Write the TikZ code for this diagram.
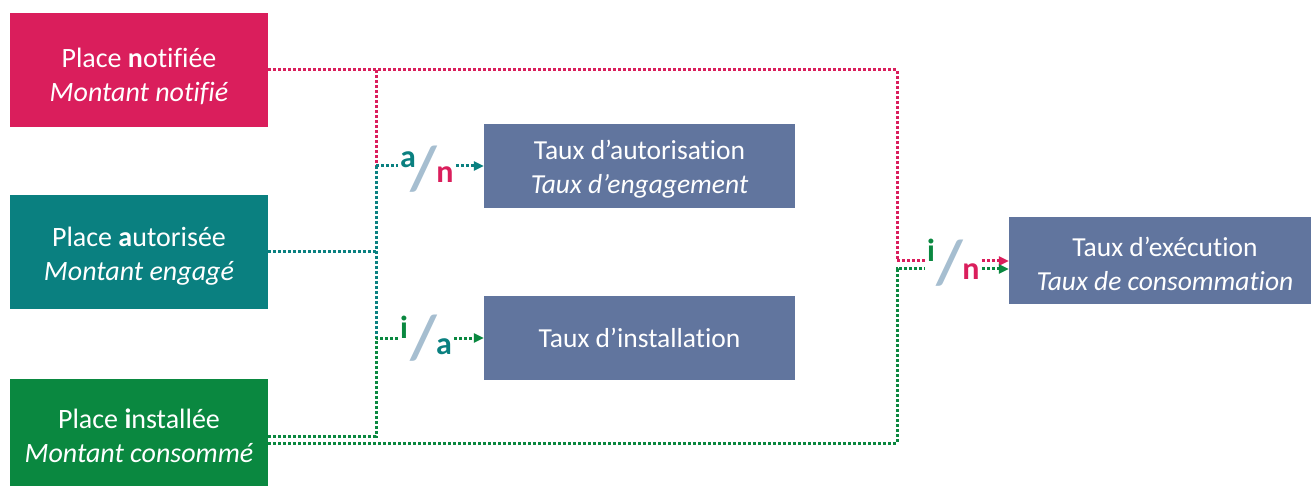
\documentclass[tikz,border=0pt]{standalone}
\usepackage{fontspec}
\setmainfont{Carlito}[Ligatures={NoCommon}]
\usepackage{xcolor}
\usetikzlibrary{arrows.meta, positioning, calc}

\definecolor{rose}{RGB}{218,30,92}
\definecolor{sarcelle}{RGB}{10,128,128}
\definecolor{vert}{RGB}{10,136,64}
\definecolor{ardoise}{RGB}{97,117,158}
\definecolor{barregris}{RGB}{166,190,208}

\newcommand{\hautligne}[1]{\rule{0pt}{#1}}

\tikzset{
  place/.style={minimum width=258pt, minimum height=114pt, inner sep=0pt, text=white, align=center, font=\fontsize{28}{34}\selectfont},
  taux/.style={fill=ardoise, minimum width=311pt, minimum height=84pt, inner sep=0pt, text=white, align=center, font=\fontsize{27.5}{34}\selectfont},
  dots/.style={line width=3pt, dash pattern=on 3pt off 2pt},
  tip/.style={-{Triangle[length=10pt, width=9pt]}},
  lettre/.style={inner sep=0pt, font=\fontsize{32}{32}\selectfont\bfseries},
  barre/.style={inner sep=0pt, text=barregris, font=\fontsize{62}{62}\selectfont\bfseries}
}

\begin{document}
\begin{tikzpicture}[x=1pt, y=-1pt]
      \useasboundingbox (0,0) rectangle (1311,486);
      \clip (0,0) rectangle (1311,486);

      \node[place, fill=rose] (notif) at (139,70) {\hautligne{32pt}Place \textbf{n}otifiée\\\textit{Montant notifié}};
      \node[place, fill=sarcelle] (autor) at (139,252) {\hautligne{28pt}Place \textbf{a}utorisée\\\textit{Montant engagé}};
      \node[place, fill=vert] (instal) at (139,436) {\hautligne{20pt}Place \textbf{i}nstallée\\\textit{Montant consommé}};

      \node[taux] (tautor) at (639.5,166) {\hautligne{26pt}Taux d’autorisation\\\textit{Taux d’engagement}};
      \node[taux] (tinstal) at (639.5,338) {Taux d’installation};
      \node[taux, minimum width=312pt, minimum height=87pt] (texec) at (1165,260.5) {\hautligne{26pt}Taux d’exécution\\\textit{Taux de consommation}};

      \coordinate (jn) at (376,70);
      \coordinate (ja) at (376,166);
      \coordinate (ji) at (376,338);
      \coordinate (hautdroit) at (897,70);
      \coordinate (basdroit) at (897,443);
      \coordinate (je) at (897,261);
      \coordinate (jv) at (897,269);

      \node[lettre, text=sarcelle] (a1) at (408,160) {a};
      \node[barre] (s1) at (424,169) {/};
      \node[lettre, text=rose] (n1) at (445,175) {n};

      \node[lettre, text=vert] (i2) at (404,327) {i};
      \node[barre] (s2) at (424,338) {/};
      \node[lettre, text=sarcelle] (a2) at (444,347) {a};

      \node[lettre, text=vert] (i3) at (931,250) {i};
      \node[barre] (s3) at (950,263) {/};
      \node[lettre, text=rose] (n3) at (971,272) {n};

      \draw[dots, rose] (notif.east) -- (hautdroit) -- (je) -- ([xshift=-2pt]i3.west |- je);
      \draw[dots, rose] (jn) -- (ja);
      \draw[dots, sarcelle] (autor.east) -- (autor.east -| ja);
      \draw[dots, sarcelle] (ja) -- (ji);
      \draw[dots, sarcelle] (ja) -- ([xshift=-2pt]a1.west |- ja);
      \draw[dots, sarcelle, tip] ([xshift=2pt]n1.east |- ja) -- (tautor.west);
      \draw[dots, vert] (instal.east) -- (instal.east -| ji) -- (ji) -- ([xshift=-2pt]i2.west |- ji);
      \draw[dots, vert, tip] ([xshift=2pt]a2.east |- ji) -- (tinstal.west);
      \draw[dots, vert] ([yshift=-7pt]instal.east) -- (basdroit) -- (jv) -- ([xshift=-2pt]i3.west |- jv);
      \draw[dots, rose, tip] ([xshift=2pt]n3.east |- je) -- (texec.west |- je);
      \draw[dots, vert, tip] ([xshift=2pt]n3.east |- jv) -- (texec.west |- jv);

    \end{tikzpicture}
\end{document}
